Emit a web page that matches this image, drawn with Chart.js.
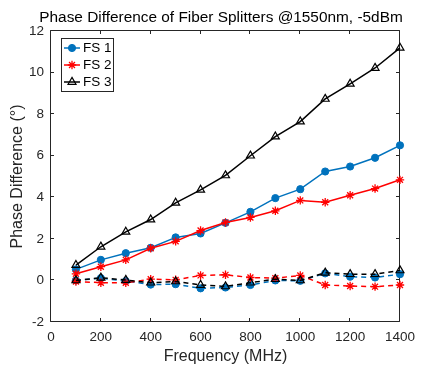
<!DOCTYPE html>
<html>
<head>
<meta charset="utf-8">
<script src="https://cdn.jsdelivr.net/npm/chart.js"></script>
<style>
  html, body { margin: 0; padding: 0; background: #fff; }
  #wrap { width: 422px; height: 366px; }
</style>
</head>
<body>
<div id="wrap"><canvas id="phaseChart" width="422" height="366"></canvas></div>
<script>
// ---------- data ----------
const freq = [100, 200, 300, 400, 500, 600, 700, 800, 900, 1000, 1100, 1200, 1300, 1400];

const fs1 = [0.53, 0.99, 1.31, 1.57, 2.07, 2.26, 2.77, 3.30, 3.96, 4.39, 5.24, 5.48, 5.90, 6.50];
const fs2 = [0.32, 0.66, 0.99, 1.55, 1.88, 2.40, 2.79, 3.03, 3.35, 3.85, 3.76, 4.10, 4.42, 4.84];
const fs3 = [0.74, 1.62, 2.34, 2.93, 3.73, 4.36, 5.05, 6.00, 6.92, 7.64, 8.73, 9.46, 10.22, 11.19];

// dashed traces near zero
const fs1Dash = [0.00, 0.11, -0.03, -0.20, -0.18, -0.38, -0.34, -0.22, 0.00, -0.02, 0.34, 0.18, 0.14, 0.30];
const fs2Dash = [-0.05, -0.11, -0.11, 0.06, 0.03, 0.24, 0.27, 0.14, 0.11, 0.24, -0.22, -0.27, -0.30, -0.22];
const fs3Dash = [0.00, 0.13, 0.02, -0.11, -0.05, -0.22, -0.29, -0.11, 0.06, 0.00, 0.37, 0.30, 0.30, 0.48];

const xTicks = [0, 200, 400, 600, 800, 1000, 1200, 1400];
const yTicks = [-2, 0, 2, 4, 6, 8, 10, 12];

const titleText = "Phase Difference of Fiber Splitters @1550nm, -5dBm";
const xTitle = "Frequency (MHz)";
const yTitle = "Phase Difference (°)";

// ---------- styles ----------
const FONT = "'Liberation Sans', Arial, sans-serif";
const AXIS = "#262626";
const BLUE = "#0072BD";
const RED = "#FF0000";
const BLACK = "#000000";

function pts(values) {
  return values.map(function (v, i) { return { x: freq[i], y: v }; });
}

function series(label, values, color, style, dashed, inLegend) {
  var marker = {
    circle:   { r: 3.6, bw: 1, bg: color },
    star:     { r: 4.2, bw: 1.3, bg: color },
    triangle: { r: 4.6, bw: 1.2, bg: "rgba(0,0,0,0)" }
  }[style];
  return {
    label: label,
    data: pts(values),
    borderColor: color,
    backgroundColor: marker.bg,
    borderWidth: 1.5,
    borderDash: dashed ? [5, 4] : [],
    pointStyle: style,
    pointRadius: marker.r,
    pointBorderWidth: marker.bw,
    pointBackgroundColor: marker.bg,
    pointBorderColor: color,
    tension: 0,
    clip: false,
    inLegend: inLegend
  };
}

const datasets = [
  series("FS 1", fs1, BLUE, "circle", false, true),
  series("FS 2", fs2, RED, "star", false, true),
  series("FS 3", fs3, BLACK, "triangle", false, true),
  series("FS 1 (dashed)", fs1Dash, BLUE, "circle", true, false),
  series("FS 2 (dashed)", fs2Dash, RED, "star", true, false),
  series("FS 3 (dashed)", fs3Dash, BLACK, "triangle", true, false)
];
// later traces on top, like the original plot
datasets.forEach(function (d, i) { d.order = datasets.length - i; });

// ---------- plugins ----------
// box around axes with inward ticks on all four sides
const boxTicks = {
  id: "boxTicks",
  beforeDatasetsDraw(chart) {
    const ctx = chart.ctx;
    const a = chart.chartArea;
    const sx = chart.scales.x, sy = chart.scales.y;
    const len = 3.5;
    const L = Math.round(a.left) - 0.5, R = Math.round(a.right) - 0.5;
    const T = Math.round(a.top) - 0.5, B = Math.round(a.bottom) - 0.5;
    ctx.save();
    ctx.strokeStyle = AXIS;
    ctx.lineWidth = 1;
    ctx.beginPath();
    ctx.rect(L, T, R - L, B - T);
    xTicks.forEach(function (v) {
      const px = Math.round(sx.getPixelForValue(v)) - 0.5;
      ctx.moveTo(px, B); ctx.lineTo(px, B - len);
      ctx.moveTo(px, T); ctx.lineTo(px, T + len);
    });
    yTicks.forEach(function (v) {
      const py = Math.round(sy.getPixelForValue(v)) - 0.5;
      ctx.moveTo(L, py); ctx.lineTo(L + len, py);
      ctx.moveTo(R, py); ctx.lineTo(R - len, py);
    });
    ctx.stroke();
    ctx.restore();
  }
};

// title drawn at a fixed spot above the axes
const plotTitle = {
  id: "plotTitle",
  afterDraw(chart) {
    const ctx = chart.ctx;
    ctx.save();
    ctx.fillStyle = BLACK;
    ctx.font = "15.4px " + FONT;
    ctx.textAlign = "center";
    ctx.textBaseline = "alphabetic";
    ctx.fillText(titleText, 221, 22);
    ctx.restore();
  }
};

// legend box in the upper-left corner of the axes
const legendBox = {
  id: "legendBox",
  afterDraw(chart) {
    const ctx = chart.ctx;
    const items = chart.data.datasets.filter(function (d) { return d.inLegend; });
    const x0 = 61.5, y0 = 38.5, w = 52, rowH = 17, padTop = 9.5;
    const h = items.length * rowH + 2;
    ctx.save();
    ctx.fillStyle = "#fff";
    ctx.fillRect(x0, y0, w, h);
    ctx.strokeStyle = AXIS;
    ctx.lineWidth = 1;
    ctx.strokeRect(x0, y0, w, h);
    items.forEach(function (d, i) {
      const cy = y0 + padTop + i * rowH;
      ctx.strokeStyle = d.borderColor;
      ctx.lineWidth = d.borderWidth;
      ctx.setLineDash([]);
      ctx.beginPath();
      ctx.moveTo(64, cy); ctx.lineTo(80, cy);
      ctx.stroke();
      ctx.fillStyle = d.pointBackgroundColor;
      ctx.lineWidth = d.pointBorderWidth;
      Chart.helpers.drawPoint(ctx, {
        pointStyle: d.pointStyle,
        radius: d.pointRadius,
        rotation: 0,
        borderWidth: d.pointBorderWidth
      }, 72, cy);
      ctx.fillStyle = BLACK;
      ctx.font = "13.5px " + FONT;
      ctx.textAlign = "left";
      ctx.textBaseline = "middle";
      ctx.fillText(d.label, 83, cy + 0.5);
    });
    ctx.restore();
  }
};

// ---------- chart ----------
const ctx = document.getElementById("phaseChart");

new Chart(ctx, {
  type: "line",
  data: { datasets: datasets },
  plugins: [boxTicks, plotTitle, legendBox],
  options: {
    responsive: false,
    animation: false,
    events: [],
    layout: {
      padding: { top: 31, right: 16, bottom: 0, left: 0 }
    },
    plugins: {
      legend: { display: false },
      tooltip: { enabled: false },
      title: { display: false }
    },
    scales: {
      x: {
        type: "linear",
        min: 0,
        max: 1400,
        afterBuildTicks: function (s) { s.ticks = xTicks.map(function (v) { return { value: v }; }); },
        afterFit: function (s) { s.height = 44; },
        grid: { display: false, drawTicks: false },
        border: { display: false },
        ticks: {
          padding: 7,
          color: AXIS,
          maxRotation: 0,
          font: { family: FONT, size: 13.5 },
          callback: function (v) { return String(v); }
        },
        title: {
          display: true,
          text: xTitle,
          color: AXIS,
          padding: { top: 0, bottom: 0 },
          font: { family: FONT, size: 16 }
        }
      },
      y: {
        type: "linear",
        min: -2,
        max: 12,
        afterBuildTicks: function (s) { s.ticks = yTicks.map(function (v) { return { value: v }; }); },
        afterFit: function (s) { s.width = 51; },
        grid: { display: false, drawTicks: false },
        border: { display: false },
        ticks: {
          padding: 7,
          color: AXIS,
          font: { family: FONT, size: 13.5 },
          callback: function (v) { return String(v); }
        },
        title: {
          display: true,
          text: yTitle,
          color: AXIS,
          padding: { top: 7.5, bottom: 0 },
          font: { family: FONT, size: 16 }
        }
      }
    }
  }
});
</script>
</body>
</html>
